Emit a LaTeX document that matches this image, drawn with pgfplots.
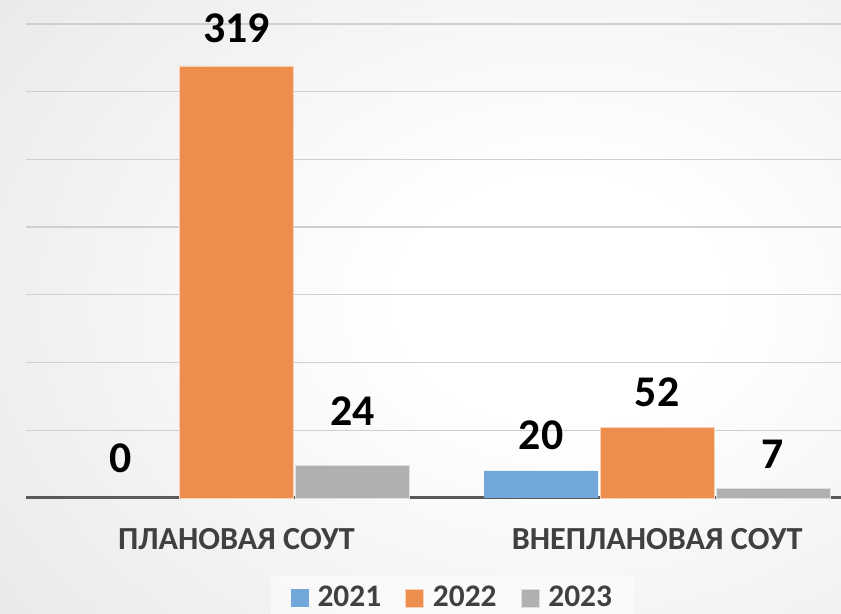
\documentclass[border=0pt]{standalone}
\usepackage{fontspec}
\setmainfont{Carlito}
\usepackage{pgfplots}
\usepackage{pgfplotstable}
\pgfplotsset{compat=1.18}
\definecolor{cA}{HTML}{71A8D9}
\definecolor{cB}{HTML}{EE8E4E}
\definecolor{cC}{HTML}{B0B0B0}
\definecolor{txt}{HTML}{404040}
\definecolor{axl}{HTML}{595959}
\pgfdeclareradialshading{bgshade}{\pgfpoint{0bp}{0bp}}{color(0bp)=(white); color(5bp)=(white); color(25bp)=(black!10); color(50bp)=(black!26)}
\pgfplotstableread{
x y off
0 0 25
1 20 21
}\dA
\pgfplotstableread{
x y off
0 319 23
1 52 21
}\dB
\pgfplotstableread{
x y off
0 24 40
1 7 20
}\dC
\begin{document}
\begin{tikzpicture}[x=1bp,y=1bp]
\useasboundingbox (0,0) rectangle (841,614);
\clip (0,0) rectangle (841,614);
\shade[shading=bgshade] (560-800,314-600) rectangle (560+800,314+600);
\begin{axis}[
  at={(26bp,116bp)}, anchor=south west,
  scale only axis, width=815bp, height=474bp,
  xmin=-0.5, xmax=1.437, ymin=0, ymax=350,
  ybar=2bp, bar width=0.2708,
  ytick={0,50,...,350}, yticklabels={},
  ymajorgrids, grid style={color=black!19, line width=1.3bp},
  axis x line*=bottom, axis y line*=left, y axis line style={draw=none},
  x axis line style={color=axl, line width=3bp},
  xtick={0,1}, xticklabels={ПЛАНОВАЯ СОУТ, ВНЕПЛАНОВАЯ СОУТ},
  major tick length=0pt,
  xticklabel style={anchor=base, yshift=-52bp, font=\bfseries\fontsize{32.3}{35}\selectfont, text=txt},
  /pgf/number format/assume math mode=true,
  visualization depends on={\thisrow{off} \as \myoff},
  nodes near coords,
  every node near coord/.append style={anchor=base, yshift=\myoff*1bp, font=\bfseries\fontsize{44}{48}\selectfont, text=black},
  legend columns=3,
  legend image code/.code={\fill[#1, fill opacity=1] (0bp,-10bp) rectangle (18bp,8bp); \path (25bp,0bp);},
  legend style={at={(0.523,-0.1646)}, anchor=north, fill=white, fill opacity=0.5, text opacity=1, draw=none,
    font=\bfseries\fontsize{31.5}{34}\selectfont, text=txt, inner xsep=20bp, inner ysep=8bp,
    /tikz/every even column/.append style={column sep=22bp}},
  clip=false,
]
\addplot[fill=cA, draw=none] table[x=x,y=y] {\dA};
\addplot[fill=cB, draw=white!60!cB, line width=0.8bp] table[x=x,y=y] {\dB};
\addplot[fill=cC, draw=white!60!cC, line width=0.8bp] table[x=x,y=y] {\dC};
\legend{2021,2022,2023}
\end{axis}
\end{tikzpicture}
\end{document}
